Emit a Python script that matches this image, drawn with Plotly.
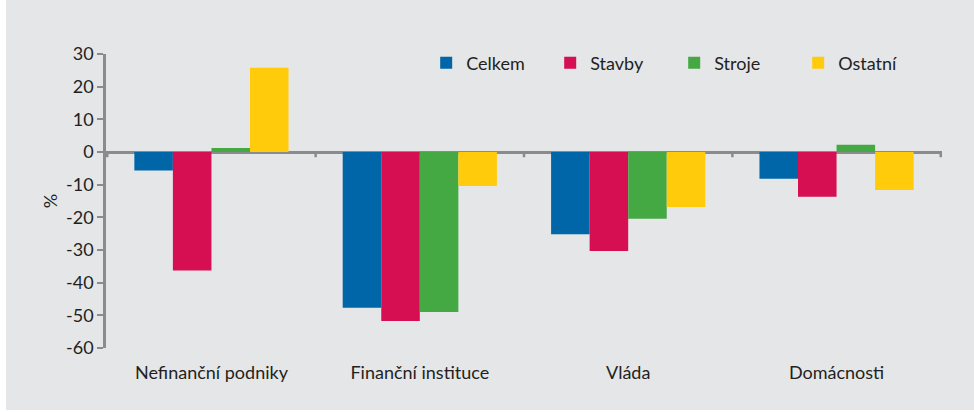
import plotly.graph_objects as go

categories = ["Nefinanční podniky", "Finanční instituce", "Vláda", "Domácnosti"]
celkem = [-5.7, -47.7, -25.2, -8.2]
stavby = [-36.3, -51.7, -30.3, -13.7]
stroje = [1.2, -49.0, -20.4, 2.2]
ostatni = [25.8, -10.4, -16.8, -11.6]

series = [("Celkem", celkem, "#0066A8"), ("Stavby", stavby, "#D60F52"),
          ("Stroje", stroje, "#44A843"), ("Ostatní", ostatni, "#FFCB0A")]

y_ticks = [30, 20, 10, 0, -10, -20, -30, -40, -50, -60]

FONT = "Lato"
TXT = "#231F20"
AX = "#8A8B8D"
BG = "#E5E6E8"
W = 400

fig = go.Figure()
for name, vals, col in series:
    fig.add_trace(go.Bar(x=categories, y=vals, name=name,
                         marker=dict(color=col, line=dict(width=0))))

# category boundary ticks on the zero line
shapes = []
for i in range(len(categories) + 1):
    shapes.append(dict(type="line", xref="x", yref="y", x0=i - 0.5, x1=i - 0.5,
                       y0=0, y1=-1.6, line=dict(color=AX, width=2.5), layer="above"))
# white left strip and bottom strip of the original page
shapes.append(dict(type="rect", xref="paper", yref="paper", x0=-0.2, x1=-100/836,
                   y0=-1, y1=2, fillcolor="white", line=dict(width=0), layer="below"))
shapes.append(dict(type="rect", xref="paper", yref="paper", x0=-1, x1=2,
                   y0=-64/294, y1=-62/294, fillcolor="white", line=dict(width=0), layer="below"))

fnt = dict(family=FONT, size=18, color=TXT, weight=W)

fig.update_layout(
    width=974, height=412,
    margin=dict(l=106, r=32, t=54, b=64, autoexpand=False),
    paper_bgcolor=BG, plot_bgcolor=BG,
    barmode="group", bargap=0.26, bargroupgap=0,
    font=fnt,
    showlegend=True,
    legend=dict(orientation="h", x=0.383, y=0.969, xanchor="left", yanchor="middle",
                bgcolor="rgba(0,0,0,0)", font=fnt,
                entrywidth=79, entrywidthmode="pixels", itemsizing="constant",
                itemwidth=30),
    xaxis=dict(showline=False, ticks="", showgrid=False, zeroline=False, automargin=False,
               tickfont=fnt, ticklabelstandoff=12),
    yaxis=dict(range=[-60, 30], tickvals=y_ticks, ticktext=[str(v) for v in y_ticks],
               showgrid=False, showline=True, linecolor=AX, linewidth=2.5,
               ticks="outside", ticklen=6, tickwidth=2, tickcolor=AX, automargin=False,
               zeroline=True, zerolinecolor=AX, zerolinewidth=2.5,
               tickfont=fnt,
               title=dict(text="%", font=fnt, standoff=4)),
    shapes=shapes,
)

fig.write_html("out.html", config={"displayModeBar": False},
               post_script="document.body.style.margin='0';document.body.style.overflow='hidden';")
